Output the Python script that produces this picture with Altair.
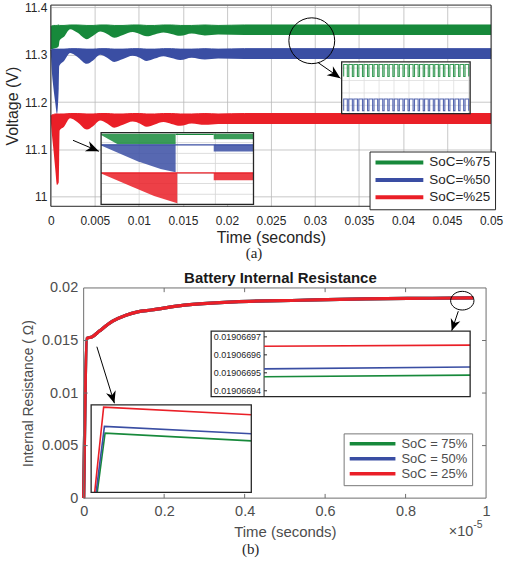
import altair as alt
import pandas as pd

FONT = "Liberation Sans"
SERIF = "Liberation Serif"
INK = "#262626"
SOFT = "#4d4d4d"

series_a = ["SoC=%75", "SoC=%50", "SoC=%25"]
series_b = ["SoC = 75%", "SoC = 50%", "SoC = 25%"]
keys_a = ["a75", "a50", "a25"]
keys_b = ["b75", "b50", "b25"]
colors = ["#17893b", "#3a4ea3", "#ea1f27"]

# ---------------- (a) terminal voltage: envelope of the switching ripple ----------------
t_a = [0, 0.0001, 0.0003, 0.0005, 0.0007, 0.0009, 0.00095, 0.001, 0.0015, 0.0022,
       0.003, 0.0041, 0.0048, 0.0056, 0.0064, 0.0072, 0.0082, 0.0093, 0.0101, 0.0109,
       0.0118, 0.0128, 0.0137, 0.0147, 0.016, 0.0175, 0.019, 0.022, 0.05]
g_lo = [11.312, 11.312, 11.313, 11.314, 11.315, 11.318, 11.325, 11.330, 11.338, 11.354,
        11.347, 11.333, 11.340, 11.349, 11.344, 11.336, 11.342, 11.348, 11.344, 11.339,
        11.343, 11.347, 11.344, 11.340, 11.345, 11.341, 11.343, 11.342, 11.342]
g_hi = [11.360, 11.361, 11.362, 11.362, 11.362, 11.363, 11.363, 11.362, 11.362, 11.363,
        11.363, 11.362, 11.362, 11.363, 11.363, 11.362, 11.362, 11.363, 11.363, 11.362,
        11.362, 11.363, 11.363, 11.362, 11.362, 11.363, 11.362, 11.363, 11.363]
b_lo = [11.305, 11.27, 11.23, 11.20, 11.175, 11.23, 11.275, 11.278, 11.287, 11.304,
        11.296, 11.281, 11.288, 11.300, 11.294, 11.285, 11.291, 11.298, 11.294, 11.287,
        11.292, 11.297, 11.293, 11.289, 11.294, 11.290, 11.292, 11.291, 11.291]
b_hi = [11.309, 11.311, 11.312, 11.312, 11.312, 11.312, 11.312, 11.312, 11.312, 11.313,
        11.313, 11.312, 11.312, 11.313, 11.313, 11.312, 11.312, 11.313, 11.313, 11.312,
        11.312, 11.313, 11.313, 11.312, 11.312, 11.313, 11.312, 11.313, 11.313]
r_lo = [11.16, 11.137, 11.10, 11.06, 11.025, 11.03, 11.08, 11.140, 11.148, 11.166,
        11.158, 11.142, 11.149, 11.161, 11.155, 11.146, 11.152, 11.159, 11.155, 11.148,
        11.153, 11.158, 11.154, 11.150, 11.155, 11.152, 11.154, 11.154, 11.154]
r_hi = [11.170, 11.173, 11.174, 11.175, 11.175, 11.175, 11.175, 11.175, 11.175, 11.176,
        11.176, 11.175, 11.175, 11.176, 11.176, 11.175, 11.175, 11.176, 11.176, 11.175,
        11.175, 11.176, 11.176, 11.175, 11.175, 11.176, 11.175, 11.176, 11.176]
xt_a = [0, 0.005, 0.01, 0.015, 0.02, 0.025, 0.03, 0.035, 0.04, 0.045, 0.05]
yt_a = [11, 11.1, 11.2, 11.3, 11.4]
dom_ta = [0, 0.05]
dom_va = [10.98, 11.405]

# zoom circle / arrows of (a), in data units
circ_a_t = [0.02964]
circ_a_v = [11.3297]
arr_a_t0 = [0.00252, 0.03035]
arr_a_v0 = [11.1194, 11.2836]
arr_a_t1 = [0.00546, 0.03289]
arr_a_v1 = [11.0962, 11.2507]
arr_a_ang = [112.9, 124.9]

# inset A1 (start-up detail), normalised units
a1_g_u = [0, 0.109, 0.489]
a1_g_lo = [0.968, 0.839, 0.839]
a1_g_top = [0.982, 0.982, 0.982]
a1_b_u = [0, 0.239, 0.391, 0.489]
a1_b_lo = [0.82, 0.60, 0.493, 0.447]
a1_b_top = [0.829, 0.829, 0.829, 0.829]
a1_r_u = [0, 0.196, 0.348, 0.5]
a1_r_lo = [0.429, 0.253, 0.115, 0.014]
a1_r_top = [0.438, 0.438, 0.438, 0.438]
a1_band_u = [0.739, 1.0]
a1_band_lo = [0.908, 0.737, 0.336]
a1_band_hi = [0.982, 0.829, 0.438]
a1_line_u0 = [0.489, 0.0, 0.0]
a1_line_u1 = [0.739, 1.0, 1.0]
a1_line_v = [0.975, 0.829, 0.438]
a1_grid_u = [0.25, 0.5, 0.75]
a1_grid_v = [0.14, 0.29, 0.43, 0.57, 0.71, 0.86]

# inset A2 (steady-state ripple), pulses in cycle units
a2_pulses = [0, 1, 2, 3, 4, 5, 6, 7, 8, 9, 10, 11, 12, 13, 14, 15, 16, 17, 18, 19, 20, 21, 22, 23, 24]
a2_duty = 0.72
a2_low = [0.718, 0.058]
a2_high = [0.948, 0.282]
a2_grid_u = [1.1, 4.05, 7.0, 9.95, 12.9, 15.85, 18.8, 21.75, 24.7]
a2_grid_v = [0.16, 0.40, 0.64, 0.88]

# ---------------- (b) internal resistance ----------------
res_t = [0, 0.008, 0.021, 0.039, 0.072, 0.105, 0.134, 0.168, 0.25, 0.374, 0.538, 0.70, 0.866, 0.968]
res_r = [0, 0.0152, 0.01535, 0.0159, 0.01684, 0.01741, 0.01773, 0.0179, 0.01836, 0.01868,
         0.01883, 0.01896, 0.01902, 0.01905]
xt_b = [0, 0.2, 0.4, 0.6, 0.8, 1]
yt_b = [0, 0.005, 0.01, 0.015, 0.02]
dom_tb = [0, 1]
dom_rb = [0, 0.02]

circ_b_t = [0.9409]
circ_b_r = [0.01879]
arr_b_t0 = [0.0328, 0.931]
arr_b_r0 = [0.01441, 0.01779]
arr_b_t1 = [0.0764, 0.9146]
arr_b_r1 = [0.00903, 0.01592]
arr_b_ang = [162.7, 198.8]

# inset B1 (first step), normalised units; order green, blue, red
b1_u = [[0.038, 0.087, 1.0], [0.031, 0.083, 1.0], [0.022, 0.078, 1.0]]
b1_v = [[0.0, 0.676, 0.589], [0.0, 0.754, 0.669], [0.0, 0.973, 0.886]]

# inset B2 (end detail)
b2_t = [0.9143, 0.97]
b2_r = [[0.0190669478, 0.0190669487], [0.0190669522, 0.0190669532], [0.0190669648, 0.0190669654]]
b2_ticks = [0.01906694, 0.01906695, 0.01906696, 0.01906697]
b2_dom_t = [0.90, 0.97]
b2_dom_r = [0.0190669368, 0.0190669732]

ARROW = "M0,0 L0.42,1 L0,0.7 L-0.42,1 Z"
ELLIPSE = "M-1,0 A1,0.8 0 1,1 1,0 A1,0.8 0 1,1 -1,0 Z"

# ================= panel (a) =================
df_a = pd.DataFrame([
    {"t": t, "lo": lo, "hi": hi, "s": name, "k": key}
    for name, key, los, his in zip(series_a, keys_a, [g_lo, b_lo, r_lo], [g_hi, b_hi, r_hi])
    for t, lo, hi in zip(t_a, los, his)
])
xs_a = alt.Scale(domain=dom_ta, nice=False, zero=False)
ys_a = alt.Scale(domain=dom_va, nice=False, zero=False)
ax_xa = alt.Axis(values=xt_a, format="~g", title="Time (seconds)", grid=True,
                 gridColor="#b9b9b9", gridWidth=0.8, ticks=False, domain=False,
                 labelFontSize=12, labelColor=INK, labelPadding=9, labelFlush=False,
                 labelOverlap=False, titleFontSize=16, titleFontWeight="normal",
                 titleColor=INK, titlePadding=3)
ax_ya = alt.Axis(values=yt_a, format="~g", title="Voltage (V)", grid=True,
                 gridColor="#b9b9b9", gridWidth=0.8, ticks=False, domain=False,
                 labelFontSize=12, labelColor=INK, labelPadding=4, labelOverlap=False,
                 titleFontSize=16, titleFontWeight="normal", titleColor=INK, titlePadding=4)
col_a = alt.Scale(domain=series_a, range=colors)
key_a = alt.Scale(domain=keys_a, range=colors)

def XA(f):
    return alt.X(f, type="quantitative", scale=xs_a, axis=ax_xa)

def YA(f):
    return alt.Y(f, type="quantitative", scale=ys_a, axis=ax_ya)

band_a = alt.Chart(df_a).mark_area(interpolate="monotone").encode(
    x=XA("t"), y=YA("lo"), y2="hi",
    fill=alt.Fill("k:N", scale=key_a, legend=None))
edge_a = alt.Chart(df_a).mark_line(strokeWidth=1, interpolate="monotone").encode(
    x=XA("t"), y=YA("hi"),
    color=alt.Color("s:N", scale=col_a, legend=alt.Legend(
        title=None, orient="none", legendX=320, legendY=147, symbolType="M-8.6,0 L1,0",
        symbolSize=100, symbolOffset=38, symbolStrokeWidth=4, labelFont=FONT, labelFontSize=13.5,
        labelColor=INK, padding=4, rowPadding=1.5, labelOffset=4, strokeColor=INK,
        fillColor="white", cornerRadius=0)))
frame_a = alt.Chart(pd.DataFrame({"x0": [dom_ta[0]], "x1": [dom_ta[1]], "y0": [dom_va[0]], "y1": [dom_va[1]]})).mark_rect(
    fill=None, stroke=INK, strokeWidth=1).encode(x=XA("x0"), x2="x1", y=YA("y0"), y2="y1")
circ_a = alt.Chart(pd.DataFrame({"t": circ_a_t, "v": circ_a_v})).mark_point(
    shape="circle", filled=False, stroke="black", strokeWidth=1, size=2116, opacity=1).encode(
    x=XA("t"), y=YA("v"))
arr_df_a = pd.DataFrame({"t0": arr_a_t0, "v0": arr_a_v0, "t1": arr_a_t1, "v1": arr_a_v1, "ang": arr_a_ang})
shaft_a = alt.Chart(arr_df_a).mark_rule(color="black", strokeWidth=1).encode(
    x=XA("t0"), y=YA("v0"), x2="t1", y2="v1")
head_a = alt.Chart(arr_df_a).mark_point(shape=ARROW, filled=True, color="black", size=676, opacity=1).encode(
    x=XA("t1"), y=YA("v1"), angle=alt.Angle("ang:Q", scale=None))
main_a = alt.layer(band_a, edge_a, frame_a, circ_a, shaft_a, head_a)

# inset A1
xs1 = alt.Scale(domain=[0, 1], range=[50.5, 203.5], nice=False, zero=False)
ys1 = alt.Scale(domain=[0, 1], range=[200, 128], nice=False, zero=False)

def X1(f):
    return alt.X(f, type="quantitative", scale=xs1, axis=None)

def Y1(f):
    return alt.Y(f, type="quantitative", scale=ys1, axis=None)

rows = []
for key, us, los, tops in zip(keys_a, [a1_g_u, a1_b_u, a1_r_u], [a1_g_lo, a1_b_lo, a1_r_lo], [a1_g_top, a1_b_top, a1_r_top]):
    for u, lo, hi in zip(us, los, tops):
        rows.append({"u": u, "lo": lo, "hi": hi, "k": key, "part": key + "w"})
for key, lo, hi in zip(keys_a, a1_band_lo, a1_band_hi):
    for u in a1_band_u:
        rows.append({"u": u, "lo": lo, "hi": hi, "k": key, "part": key + "b"})
a1_areas = pd.DataFrame(rows)
a1_lines = pd.DataFrame([{"u": u, "v": v, "k": key}
                         for key, u0, u1, v in zip(keys_a, a1_line_u0, a1_line_u1, a1_line_v)
                         for u in (u0, u1)])
box1 = pd.DataFrame({"x0": [0], "x1": [1], "y0": [0], "y1": [1]})
bg1 = alt.Chart(box1).mark_rect(fill="white").encode(x=X1("x0"), x2="x1", y=Y1("y0"), y2="y1")
gv1 = alt.Chart(pd.DataFrame({"u": a1_grid_u, "y0": 0, "y1": 1})).mark_rule(color="#d4d4d4", strokeWidth=0.8).encode(
    x=X1("u"), y=Y1("y0"), y2="y1")
gh1 = alt.Chart(pd.DataFrame({"v": a1_grid_v, "x0": 0, "x1": 1})).mark_rule(color="#d4d4d4", strokeWidth=0.8).encode(
    y=Y1("v"), x=X1("x0"), x2="x1")
ar1 = alt.Chart(a1_areas).mark_area(opacity=0.85).encode(
    x=X1("u"), y=Y1("lo"), y2="hi", detail="part:N",
    fill=alt.Fill("k:N", scale=key_a, legend=None))
ln1 = alt.Chart(a1_lines).mark_line(strokeWidth=1.3).encode(
    x=X1("u"), y=Y1("v"), stroke=alt.Stroke("k:N", scale=key_a, legend=None))
fr1 = alt.Chart(box1).mark_rect(fill=None, stroke=INK, strokeWidth=1.3).encode(x=X1("x0"), x2="x1", y=Y1("y0"), y2="y1")
ins_a1 = alt.layer(bg1, gv1, gh1, ar1, ln1, fr1)

# inset A2
xs2 = alt.Scale(domain=[-0.4, 25.0], range=[292, 421], nice=False, zero=False)
ys2 = alt.Scale(domain=[0, 1], range=[109, 57], nice=False, zero=False)

def X2(f):
    return alt.X(f, type="quantitative", scale=xs2, axis=None)

def Y2(f):
    return alt.Y(f, type="quantitative", scale=ys2, axis=None)

wrows = []
for key, lo, hi in zip(keys_a[:2], a2_low, a2_high):
    k = 0
    for p in a2_pulses:
        for u, v in ((p, lo), (p, hi), (p + a2_duty, hi), (p + a2_duty, lo)):
            wrows.append({"u": u, "v": v, "k": key, "o": k})
            k += 1
a2_wave = pd.DataFrame(wrows)
box2 = pd.DataFrame({"x0": [-0.4], "x1": [25.0], "y0": [0], "y1": [1]})
bg2 = alt.Chart(box2).mark_rect(fill="white").encode(x=X2("x0"), x2="x1", y=Y2("y0"), y2="y1")
gv2 = alt.Chart(pd.DataFrame({"u": a2_grid_u, "y0": 0, "y1": 1})).mark_rule(color="#dedede", strokeWidth=0.8).encode(
    x=X2("u"), y=Y2("y0"), y2="y1")
gh2 = alt.Chart(pd.DataFrame({"v": a2_grid_v, "x0": -0.4, "x1": 25.0})).mark_rule(color="#dedede", strokeWidth=0.8).encode(
    y=Y2("v"), x=X2("x0"), x2="x1")
wv2 = alt.Chart(a2_wave).mark_line(strokeWidth=1.1, opacity=0.85).encode(
    x=X2("u"), y=Y2("v"), order="o:Q", stroke=alt.Stroke("k:N", scale=key_a, legend=None))
fr2 = alt.Chart(box2).mark_rect(fill=None, stroke=INK, strokeWidth=1.3).encode(x=X2("x0"), x2="x1", y=Y2("y0"), y2="y1")
ins_a2 = alt.layer(bg2, gv2, gh2, wv2, fr2)

top = alt.layer(main_a, ins_a1, ins_a2).resolve_scale(x="independent", y="independent").properties(
    width=442, height=202,
    title=alt.TitleParams(text="(a)", orient="bottom", font=SERIF, fontSize=15, fontWeight="normal",
                          color=INK, anchor="middle", dx=-17, offset=1))

# ================= panel (b) =================
df_b = pd.DataFrame([{"t": t, "r": r, "s": name} for name in series_b for t, r in zip(res_t, res_r)])
xs_b = alt.Scale(domain=dom_tb, range=[33, 437], nice=False, zero=False)
ys_b = alt.Scale(domain=dom_rb, nice=False, zero=False)
col_b = alt.Scale(domain=series_b, range=colors)
key_b = alt.Scale(domain=keys_b, range=colors)
ax_xb = alt.Axis(values=xt_b, format="~g", title="Time (seconds)", grid=False, ticks=False, domain=False,
                 labelFontSize=14.5, labelColor=SOFT, labelPadding=6.5, labelFlush=False, labelOverlap=False,
                 titleFontSize=15, titleFontWeight="normal", titleColor=SOFT, titlePadding=7)
ax_yb = alt.Axis(values=yt_b, format="~g", title="Internal Resistance ( Ω)", grid=False, ticks=False,
                 domain=False, offset=-33, labelFontSize=14.5, labelColor=SOFT, labelPadding=6,
                 labelOverlap=False, titleFontSize=14, titleFontWeight="normal", titleColor=SOFT, titlePadding=6)

def XB(f):
    return alt.X(f, type="quantitative", scale=xs_b, axis=ax_xb)

def YB(f):
    return alt.Y(f, type="quantitative", scale=ys_b, axis=ax_yb)

curve_b = alt.Chart(df_b).mark_line(strokeWidth=3.2, interpolate="monotone").encode(
    x=XB("t"), y=YB("r"),
    color=alt.Color("s:N", scale=col_b, sort=None, legend=alt.Legend(
        title=None, orient="none", legendX=294, legendY=146, symbolType="M-9.2,0 L1,0",
        symbolSize=81, symbolOffset=37, symbolStrokeWidth=3.5, labelFont=FONT, labelFontSize=13,
        labelColor=SOFT, padding=4, rowPadding=0, labelOffset=4, strokeColor="#777777",
        fillColor="white", cornerRadius=0)))
frame_b = alt.Chart(pd.DataFrame({"x0": [dom_tb[0]], "x1": [dom_tb[1]], "y0": [dom_rb[0]], "y1": [dom_rb[1]]})).mark_rect(
    fill=None, stroke="#6e6e6e", strokeWidth=1).encode(x=XB("x0"), x2="x1", y=YB("y0"), y2="y1")
tick_len_t = 0.01
tick_len_r = 0.0004
tk_rows = []
for t in xt_b[1:-1]:
    tk_rows.append({"x0": t, "x1": t, "y0": dom_rb[0], "y1": dom_rb[0] + tick_len_r})
    tk_rows.append({"x0": t, "x1": t, "y0": dom_rb[1], "y1": dom_rb[1] - tick_len_r})
for r in yt_b[1:-1]:
    tk_rows.append({"x0": dom_tb[0], "x1": dom_tb[0] + tick_len_t, "y0": r, "y1": r})
    tk_rows.append({"x0": dom_tb[1], "x1": dom_tb[1] - tick_len_t, "y0": r, "y1": r})
ticks_b = alt.Chart(pd.DataFrame(tk_rows)).mark_rule(color="#6e6e6e", strokeWidth=1).encode(
    x=XB("x0"), x2="x1", y=YB("y0"), y2="y1")
circ_b = alt.Chart(pd.DataFrame({"t": circ_b_t, "r": circ_b_r})).mark_point(
    shape=ELLIPSE, filled=False, stroke="black", strokeWidth=1, size=548, opacity=1).encode(
    x=XB("t"), y=YB("r"))
arr_df_b = pd.DataFrame({"t0": arr_b_t0, "r0": arr_b_r0, "t1": arr_b_t1, "r1": arr_b_r1, "ang": arr_b_ang})
shaft_b = alt.Chart(arr_df_b).mark_rule(color="black", strokeWidth=1).encode(
    x=XB("t0"), y=YB("r0"), x2="t1", y2="r1")
head_b = alt.Chart(arr_df_b).mark_point(shape=ARROW, filled=True, color="black", size=576, opacity=1).encode(
    x=XB("t1"), y=YB("r1"), angle=alt.Angle("ang:Q", scale=None))
exp_df = pd.DataFrame({"t": [0.968], "r": [-0.0032], "txt": ["\u00d710"]})
exp_df2 = pd.DataFrame({"t": [0.968], "r": [-0.0026], "txt": ["-5"]})
exp1 = alt.Chart(exp_df).mark_text(align="right", baseline="middle", fontSize=14.5, color=SOFT).encode(
    x=XB("t"), y=YB("r"), text="txt:N")
exp2 = alt.Chart(exp_df2).mark_text(align="left", baseline="middle", fontSize=10.5, color=SOFT).encode(
    x=XB("t"), y=YB("r"), text="txt:N")
main_b = alt.layer(curve_b, frame_b, ticks_b, circ_b, shaft_b, head_b, exp1, exp2)

# inset B1
xs3 = alt.Scale(domain=[0, 1], range=[40.5, 201.3], nice=False, zero=False)
ys3 = alt.Scale(domain=[0, 1], range=[205.3, 117.3], nice=False, zero=False)

def X3(f):
    return alt.X(f, type="quantitative", scale=xs3, axis=None)

def Y3(f):
    return alt.Y(f, type="quantitative", scale=ys3, axis=None)

b1_df = pd.DataFrame([{"u": u, "v": v, "k": key}
                      for key, us, vs in zip(keys_b, b1_u, b1_v) for u, v in zip(us, vs)])
box3 = pd.DataFrame({"x0": [0], "x1": [1], "y0": [0], "y1": [1]})
bg3 = alt.Chart(box3).mark_rect(fill="white").encode(x=X3("x0"), x2="x1", y=Y3("y0"), y2="y1")
ln3 = alt.Chart(b1_df).mark_line(strokeWidth=1.6).encode(
    x=X3("u"), y=Y3("v"), stroke=alt.Stroke("k:N", scale=key_b, legend=None))
fr3 = alt.Chart(box3).mark_rect(fill=None, stroke=INK, strokeWidth=1.3).encode(x=X3("x0"), x2="x1", y=Y3("y0"), y2="y1")
ins_b1 = alt.layer(bg3, ln3, fr3)

# inset B2
xs4 = alt.Scale(domain=b2_dom_t, range=[161, 421], nice=False, zero=False)
ys4 = alt.Scale(domain=b2_dom_r, range=[109, 43.3], nice=False, zero=False)

def X4(f):
    return alt.X(f, type="quantitative", scale=xs4, axis=None)

def Y4(f):
    return alt.Y(f, type="quantitative", scale=ys4, axis=None)

b2_df = pd.DataFrame([{"t": t, "r": r, "k": key}
                      for key, rs in zip(keys_b, b2_r) for t, r in zip(b2_t, rs)])
box4 = pd.DataFrame({"x0": [b2_dom_t[0]], "x1": [b2_dom_t[1]], "y0": [b2_dom_r[0]], "y1": [b2_dom_r[1]]})
bg4 = alt.Chart(box4).mark_rect(fill="white").encode(x=X4("x0"), x2="x1", y=Y4("y0"), y2="y1")
axl4 = alt.Chart(pd.DataFrame({"t": [b2_t[0]], "y0": [b2_dom_r[0]], "y1": [b2_dom_r[1]]})).mark_rule(
    color=INK, strokeWidth=1).encode(x=X4("t"), y=Y4("y0"), y2="y1")
lab4_df = pd.DataFrame({"t": [b2_t[0]] * len(b2_ticks), "t2": [b2_t[0] + 0.0008] * len(b2_ticks),
                        "r": b2_ticks, "txt": [f"{v:.8f}" for v in b2_ticks]})
tk4 = alt.Chart(lab4_df).mark_rule(color=INK, strokeWidth=1).encode(x=X4("t"), x2="t2", y=Y4("r"))
lab4 = alt.Chart(lab4_df).mark_text(align="right", baseline="middle", dx=-3, fontSize=9, color=INK).encode(
    x=X4("t"), y=Y4("r"), text="txt:N")
ln4 = alt.Chart(b2_df).mark_line(strokeWidth=1.6).encode(
    x=X4("t"), y=Y4("r"), stroke=alt.Stroke("k:N", scale=key_b, legend=None))
fr4 = alt.Chart(box4).mark_rect(fill=None, stroke=INK, strokeWidth=1.3).encode(x=X4("x0"), x2="x1", y=Y4("y0"), y2="y1")
ins_b2 = alt.layer(bg4, axl4, tk4, lab4, ln4, fr4)

bottom = alt.layer(main_b, ins_b1, ins_b2).resolve_scale(x="independent", y="independent").properties(
    width=437, height=211,
    title=alt.TitleParams(text="Battery Internal Resistance", fontSize=15, fontWeight="bold", font=FONT,
                          color="#1a1a1a", anchor="middle", dx=12, offset=-6))

chart = alt.vconcat(top, bottom, spacing=10,
                    title=alt.TitleParams(text="(b)", orient="bottom", font=SERIF, fontSize=15,
                                          fontWeight="normal", color=INK, anchor="middle", offset=2, dx=-3)
                    ).resolve_scale(color="independent", fill="independent", stroke="independent").properties(
    padding={"left": 4, "top": 0, "right": 2, "bottom": 2}
).configure(font=FONT).configure_view(stroke=None)

chart.save("out.html", embed_options={"renderer": "svg", "actions": False})
